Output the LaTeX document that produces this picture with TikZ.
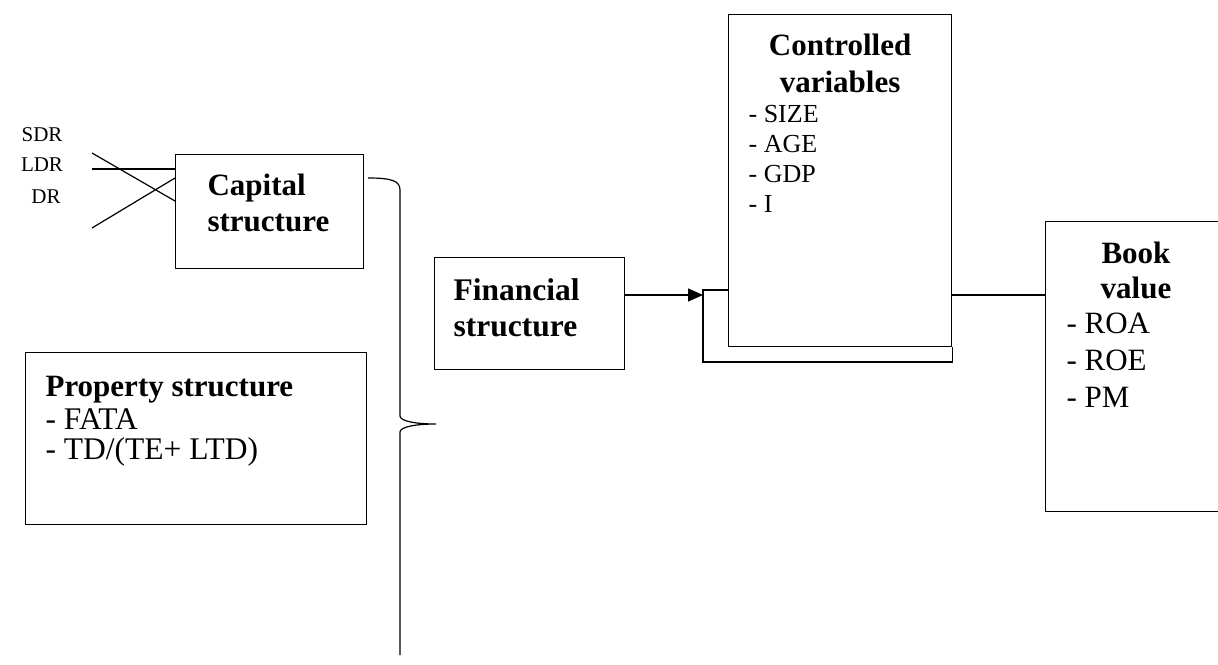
\documentclass[tikz,border=0pt]{standalone}
\usepackage{fontspec}
\setmainfont{Liberation Serif}
\usetikzlibrary{positioning,calc,arrows.meta}

\begin{document}
\begin{tikzpicture}[x=1pt,y=-1pt,line width=1.2pt,
  frame/.style={draw,anchor=north west,inner sep=0pt},
  head/.style={font=\fontsize{31}{36}\selectfont\bfseries,inner sep=0pt},
  items/.style={font=\fontsize{31.5}{30}\selectfont,align=left,inner sep=0pt},
  small/.style={font=\fontsize{21}{25}\selectfont,inner sep=0pt},
  arr/.style={-{Triangle[length=15pt,width=13pt]}}]
  \useasboundingbox (0,0) rectangle (1218,664);
  % the boxes
  \node[frame,minimum width=188pt,minimum height=114pt] (cap) at (175,154) {};
  \node[frame,minimum width=341pt,minimum height=172pt] (prop) at (25,352) {};
  \node[frame,minimum width=190pt,minimum height=112pt] (fin) at (434,257) {};
  \node[frame,minimum width=223pt,minimum height=332pt] (ctrl) at (728,14) {};
  \node[frame,minimum width=200pt,minimum height=290pt] (book) at (1045,221) {};
  % their texts
  \node[head,align=left,below right=19pt and 32pt of cap.north west] (capT) {Capital\\structure};
  \node[head,below right=24pt and 20pt of prop.north west] (propT) {Property structure};
  \node[items,below right=56pt and 20pt of prop.north west] (propL) {- FATA\\- TD/(TE+ LTD)};
  \node[head,align=left,font=\fontsize{31.5}{36}\selectfont\bfseries,
        below right=21pt and 19pt of fin.north west] (finT) {Financial\\structure};
  \node[head,align=center,font=\fontsize{31}{37}\selectfont\bfseries,
        below=19pt of ctrl.north] (ctrlT) {Controlled\\variables};
  \node[items,font=\fontsize{26}{30}\selectfont,
        below right=91pt and 20pt of ctrl.north west] (ctrlL) {- SIZE\\- AGE\\- GDP\\- I};
  \node[head,align=center,font=\fontsize{31}{35}\selectfont\bfseries,anchor=north]
        (bookT) at ($(book.north west)+(91,20)$) {Book\\value};
  \node[items,font=\fontsize{31}{37}\selectfont,
        below right=91pt and 21pt of book.north west] (bookL) {- ROA\\- ROE\\- PM};
  % ratios going into the capital structure
  \node[small] (sdr) at (42,135) {SDR};
  \node[small] (ldr) at (42,165) {LDR};
  \node[small] (dr) at (46,197) {DR};
  \coordinate (inA) at (92,153);
  \coordinate (inB) at (92,169);
  \coordinate (inC) at (92,228);
  \draw (inA) -- ($(cap.north west)+(0,47)$);
  \draw (inB) -- ($(cap.north west)+(0,15)$);
  \draw (inC) -- ($(cap.north west)+(0,24)$);
  % the brace
  \coordinate (bTop) at ($(cap.north east)+(4,24)$);
  \coordinate (bTip) at (436,424);
  \coordinate (bEnd) at (400,655);
  \draw (bTop) .. controls (392,178) and (400,181) .. (400,190) -- (400,416)
    .. controls (400,421) and (415,424) .. (bTip)
    .. controls (415,424) and (400,427) .. (400,432) -- (bEnd);
  % financial structure into the controlled variables
  \coordinate (tip) at (703,295);
  \draw (ctrl.west |- 0,290) -- (703,290) -- (703,362) -| (ctrl.south east);
  \draw[arr] (fin.east |- tip) -- (tip);
  \draw (ctrl.east |- tip) -- (book.west |- tip);
\end{tikzpicture}
\end{document}
